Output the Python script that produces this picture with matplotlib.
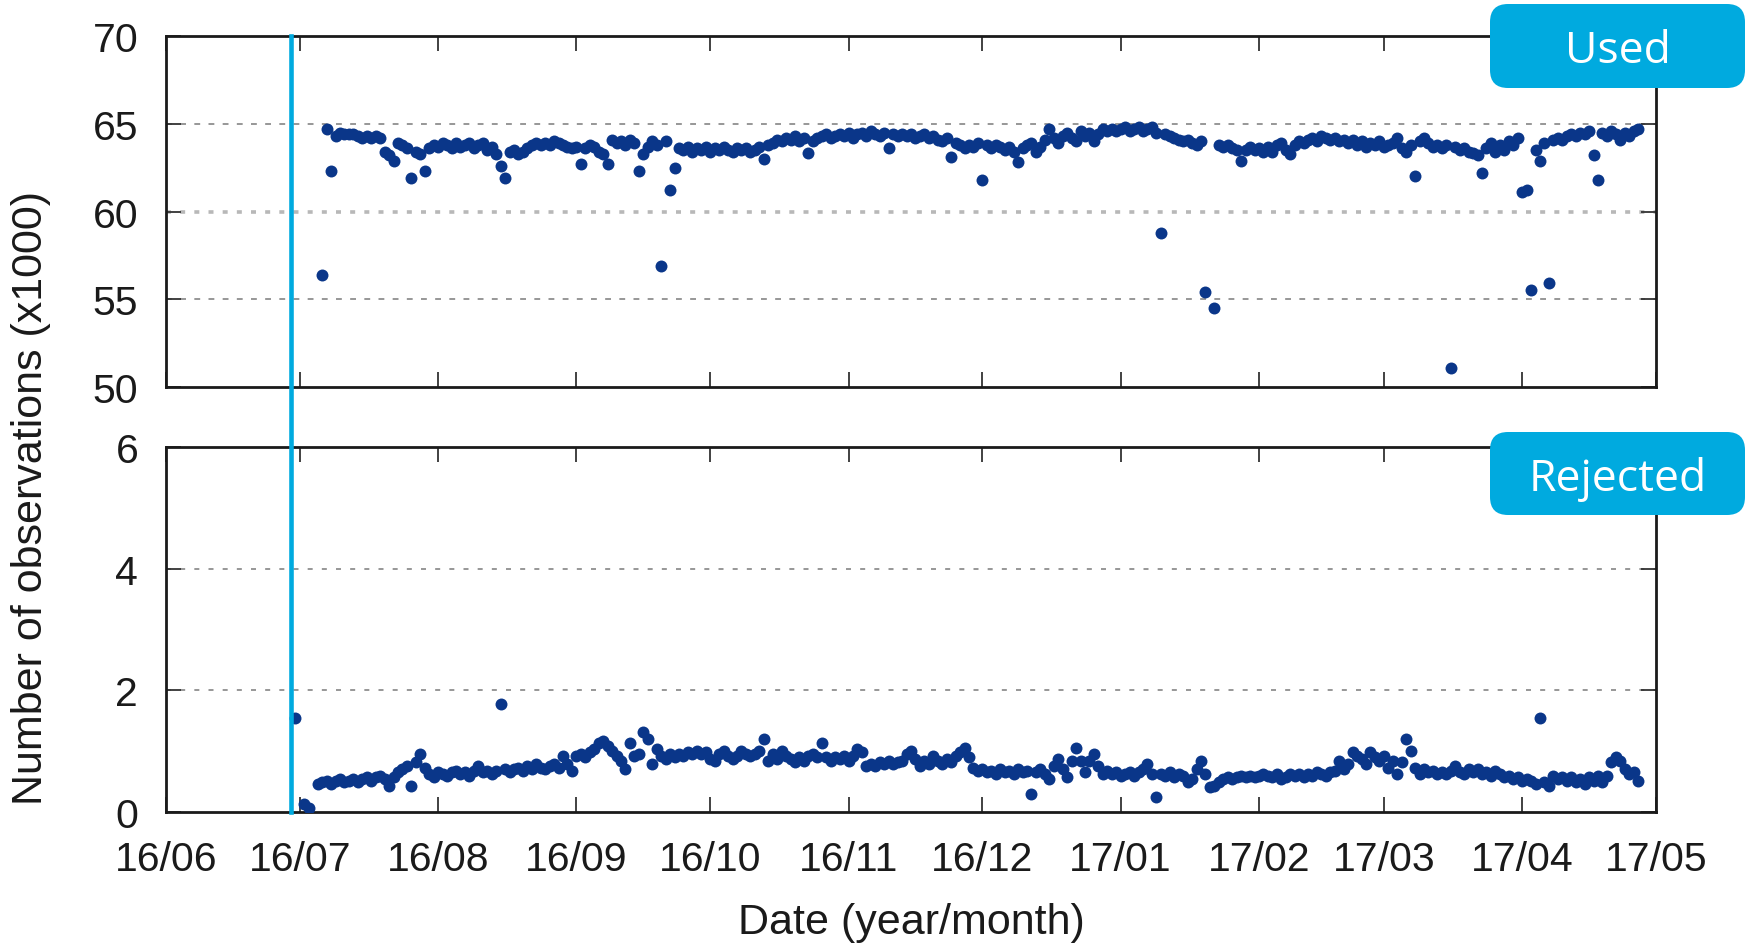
import numpy as np
import pandas as pd
import matplotlib
matplotlib.use("Agg")
import matplotlib.pyplot as plt
import matplotlib.dates as mdates
from matplotlib.patches import FancyBboxPatch
from matplotlib.lines import Line2D
from matplotlib.transforms import IdentityTransform

plt.rcParams['font.family'] = ['Liberation Sans', 'DejaVu Sans']
plt.rcParams['lines.scale_dashes'] = False

nan = np.nan

# ---------------- data (x1000 observations, one value per day) ----------------
used_start = "2016-07-06"
used_values = [
    56.4, 64.7, 62.3, 64.3, 64.5, 64.4, 64.4,
    64.4, 64.3, 64.2, 64.3, 64.2, 64.3, 64.2,
    63.4, 63.2, 62.9, 63.9, 63.8, 63.6, 61.9,
    63.4, 63.3, 62.3, 63.6, 63.8, 63.7, 63.9,
    63.8, 63.6, 63.9, 63.7, 63.8, 63.9, 63.6,
    63.8, 63.9, 63.5, 63.7, 63.3, 62.6, 61.9,
    63.4, 63.5, 63.3, 63.4, 63.6, 63.8, 63.9,
    63.8, 63.9, 63.8, 64.0, 63.9, 63.8, 63.7,
    63.6, 63.7, 62.7, 63.6, 63.8, 63.7, 63.4,
    63.3, 62.7, 64.1, 63.9, 64.0, 63.8, 64.1,
    63.9, 62.3, 63.3, 63.7, 64.0, 63.8, 56.9,
    64.0, 61.2, 62.5, 63.6, 63.5, 63.7, 63.4,
    63.6, 63.5, 63.7, 63.4, 63.6, 63.5, 63.7,
    63.5, 63.4, 63.6, 63.5, 63.6, 63.4, 63.5,
    63.7, 63.0, 63.8, 63.9, 64.1, 64.0, 64.2,
    64.1, 64.3, 64.0, 64.2, 63.35, 64.0, 64.2,
    64.3, 64.4, 64.2, 64.3, 64.4, 64.3, 64.5,
    64.2, 64.4, 64.5, 64.3, 64.6, 64.4, 64.3,
    64.5, 63.6, 64.4, 64.3, 64.4, 64.3, 64.4,
    64.2, 64.3, 64.4, 64.2, 64.3, 64.1, 64.0,
    64.2, 63.1, 63.9, 63.8, 63.6, 63.8, 63.7,
    63.9, 61.8, 63.8, 63.6, 63.8, 63.7, 63.5,
    63.7, 63.4, 62.8, 63.6, 63.8, 63.9, 63.4,
    63.7, 64.1, 64.7, 64.2, 63.9, 64.3, 64.5,
    64.2, 64.0, 64.6, 64.3, 64.5, 64.0, 64.4,
    64.7, 64.6, 64.7, 64.6, 64.7, 64.8, 64.6,
    64.7, 64.8, 64.6, 64.7, 64.8, 64.5, 58.8,
    64.4, 64.3, 64.2, 64.1, 64.0, 64.1, 63.9,
    63.8, 64.0, 55.4, nan, 54.5, 63.8, 63.7,
    63.8, 63.6, 63.5, 62.9, 63.5, 63.7, 63.5,
    63.6, 63.4, 63.7, 63.4, 63.8, 63.9, 63.5,
    63.3, 63.8, 64.0, 63.9, 64.1, 64.2, 64.0,
    64.3, 64.2, 64.1, 64.2, 64.0, 64.1, 63.9,
    64.1, 63.8, 64.0, 63.7, 63.9, 63.8, 64.0,
    63.7, 63.8, 63.9, 64.2, 63.6, 63.4, 63.8,
    62.0, 64.0, 64.2, 63.9, 63.7, 63.8, 63.6,
    63.8, 51.1, 63.7, 63.5, 63.6, 63.4, 63.35,
    63.2, 62.2, 63.6, 63.9, 63.4, 63.8, 63.5,
    64.0, 63.8, 64.2, 61.1, 61.2, 55.5, 63.5,
    62.9, 63.9, 55.9, 64.1, 64.2, 64.1, 64.3,
    64.4, 64.3, 64.5, 64.4, 64.6, 63.2, 61.8,
    64.5, 64.3, 64.6, 64.4, 64.1, 64.5, 64.3,
    64.6, 64.7,
]

rejected_start = "2016-06-30"
rejected_values = [
    1.55, nan, 0.13, 0.07, nan, 0.46, 0.49,
    0.51, 0.46, 0.51, 0.54, 0.49, 0.51, 0.54,
    0.49, 0.54, 0.57, 0.51, 0.57, 0.60, 0.54,
    0.43, 0.57, 0.65, 0.71, 0.76, 0.43, 0.82,
    0.95, 0.73, 0.62, 0.57, 0.65, 0.62, 0.60,
    0.65, 0.68, 0.62, 0.65, 0.60, 0.68, 0.76,
    0.65, 0.68, 0.62, 0.68, 1.77, 0.71, 0.65,
    0.71, 0.73, 0.68, 0.76, 0.71, 0.79, 0.73,
    0.71, 0.76, 0.79, 0.73, 0.92, 0.79, 0.68,
    0.92, 0.95, 0.90, 0.98, 1.03, 1.14, 1.17,
    1.09, 1.01, 0.92, 0.84, 0.71, 1.14, 0.92,
    0.95, 1.31, 1.20, 0.79, 1.03, 0.92, 0.87,
    0.95, 0.90, 0.95, 0.92, 0.98, 0.95, 1.01,
    0.95, 0.98, 0.87, 0.84, 0.95, 1.01, 0.92,
    0.87, 0.92, 1.01, 0.95, 0.92, 0.95, 1.01,
    1.20, 0.84, 0.95, 0.87, 1.01, 0.92, 0.87,
    0.82, 0.90, 0.84, 0.92, 0.95, 0.90, 1.14,
    0.90, 0.84, 0.90, 0.87, 0.92, 0.84, 0.92,
    1.03, 0.98, 0.76, 0.79, 0.76, 0.82, 0.79,
    0.84, 0.79, 0.82, 0.84, 0.95, 1.01, 0.87,
    0.76, 0.84, 0.79, 0.92, 0.84, 0.79, 0.87,
    0.82, 0.92, 0.98, 1.06, 0.90, 0.73, 0.68,
    0.71, 0.65, 0.68, 0.62, 0.71, 0.65, 0.68,
    0.62, 0.71, 0.65, 0.68, 0.30, 0.65, 0.71,
    0.62, 0.54, 0.76, 0.87, 0.71, 0.57, 0.84,
    1.06, 0.84, 0.65, 0.84, 0.95, 0.76, 0.62,
    0.68, 0.62, 0.65, 0.60, 0.62, 0.65, 0.60,
    0.65, 0.71, 0.79, 0.62, 0.24, 0.62, 0.60,
    0.65, 0.57, 0.62, 0.60, 0.49, 0.54, 0.71,
    0.84, 0.62, 0.41, 0.43, 0.49, 0.54, 0.57,
    0.54, 0.57, 0.60, 0.57, 0.60, 0.57, 0.60,
    0.62, 0.60, 0.57, 0.62, 0.54, 0.57, 0.62,
    0.60, 0.62, 0.57, 0.62, 0.60, 0.65, 0.62,
    0.60, 0.65, 0.68, 0.84, 0.71, 0.79, 0.98,
    0.92, 0.87, 0.79, 0.98, 0.90, 0.84, 0.92,
    0.73, 0.84, 0.62, 0.82, 1.20, 1.01, 0.73,
    0.62, 0.71, 0.65, 0.68, 0.62, 0.65, 0.62,
    0.68, 0.76, 0.65, 0.62, 0.71, 0.65, 0.71,
    0.62, 0.65, 0.60, 0.68, 0.62, 0.57, 0.60,
    0.54, 0.57, 0.51, 0.54, 0.51, 0.46, 1.55,
    0.49, 0.43, 0.60, 0.54, 0.57, 0.51, 0.57,
    0.49, 0.54, 0.46, 0.57, 0.51, 0.60, 0.49,
    0.60, 0.82, 0.90, 0.84, 0.71, 0.62, 0.65,
    0.51,
]

boundary_date = "2016-06-29"
x_start, x_end = "2016-06-01", "2017-05-01"
used_yticks = [50, 55, 60, 65, 70]
rejected_yticks = [0, 2, 4, 6]
used_grid_dashed = [55, 65]
used_grid_dotted = [60]
rejected_grid_dashed = [2, 4]
panel_labels = ["Used", "Rejected"]
x_label = "Date (year/month)"
y_label = "Number of observations (x1000)"

# ---------------- styling ----------------
W, H = 1746, 945
DOT = '#0a3689'
CYAN = '#00aadf'
SPINE = '#1a1a1a'

fig = plt.figure(figsize=(W / 100, H / 100), dpi=100)
fig.patch.set_facecolor('white')
ax1 = fig.add_axes([166 / W, 1 - 388 / H, 1490 / W, 351 / H])
ax2 = fig.add_axes([166 / W, 1 - 813 / H, 1490 / W, 365 / H])

used_x = pd.date_range(used_start, periods=len(used_values), freq='D')
rej_x = pd.date_range(rejected_start, periods=len(rejected_values), freq='D')

ax1.plot(used_x, used_values, linestyle='none', marker='o', ms=8.6, mew=0,
         color=DOT, zorder=3, clip_on=True)
ax2.plot(rej_x, rejected_values, linestyle='none', marker='o', ms=8.6, mew=0,
         color=DOT, zorder=3, clip_on=True)

for ax, yt in ((ax1, used_yticks), (ax2, rejected_yticks)):
    ax.set_xlim(pd.Timestamp(x_start), pd.Timestamp(x_end))
    ax.set_ylim(yt[0], yt[-1])
    ax.set_yticks(yt)
    ax.xaxis.set_major_locator(mdates.MonthLocator())
    ax.xaxis.set_major_formatter(mdates.DateFormatter('%y/%m'))
    ax.tick_params(axis='both', which='major', direction='in', length=10.5,
                   width=1.3, color='#333333', top=True, right=True,
                   labelsize=29.5, pad=20, labelcolor='#1a1a1a')
    for sp in ax.spines.values():
        sp.set_linewidth(2.0)
        sp.set_color(SPINE)

ax1.tick_params(axis='x', labelbottom=False)

for v in used_grid_dashed:
    ax1.axhline(v, color='#7a7a7a', lw=1.1, linestyle=(0, (4.2, 6.0)), zorder=1)
for v in used_grid_dotted:
    ax1.axhline(v, color='#b8b8b8', lw=2.6, linestyle=(0, (3.6, 6.6)), zorder=1)
for v in rejected_grid_dashed:
    ax2.axhline(v, color='#7a7a7a', lw=1.1, linestyle=(0, (3.6, 6.6)), zorder=1)

# vertical boundary line crossing both panels
xb = mdates.date2num(pd.Timestamp(boundary_date))
xdisp = ax2.transData.transform((xb, 0))[0]
xf = fig.transFigure.inverted().transform((xdisp, 0))[0]
fig.add_artist(Line2D([xf, xf], [ax2.get_position().y0, ax1.get_position().y1],
                      transform=fig.transFigure, color=CYAN, lw=3.3, zorder=10))

# panel labels
boxes = [(1490, 5, 89, 63), (1490, 433, 516, 491)]
for (x0, ytop, ybot, ybase), lab in zip(boxes, panel_labels):
    patch = FancyBboxPatch((x0, H - ybot), 1745 - x0, ybot - ytop,
                           boxstyle="round,pad=0,rounding_size=18",
                           transform=IdentityTransform(), fc=CYAN, ec='none',
                           zorder=20)
    fig.add_artist(patch)
    fig.text(1618 / W, 1 - ybase / H, lab, ha='center', va='baseline',
             color='white', fontsize=32, family=['Open Sans', 'DejaVu Sans'],
             zorder=21)

fig.text(911 / W, 1 - 934 / H, x_label, ha='center', va='baseline',
         fontsize=31, color='#1a1a1a')
fig.text(31 / W, 1 - 498 / H, y_label, ha='center', va='center', rotation=90,
         fontsize=31, color='#1a1a1a')

fig.savefig('out.png', dpi=100, facecolor='white')
